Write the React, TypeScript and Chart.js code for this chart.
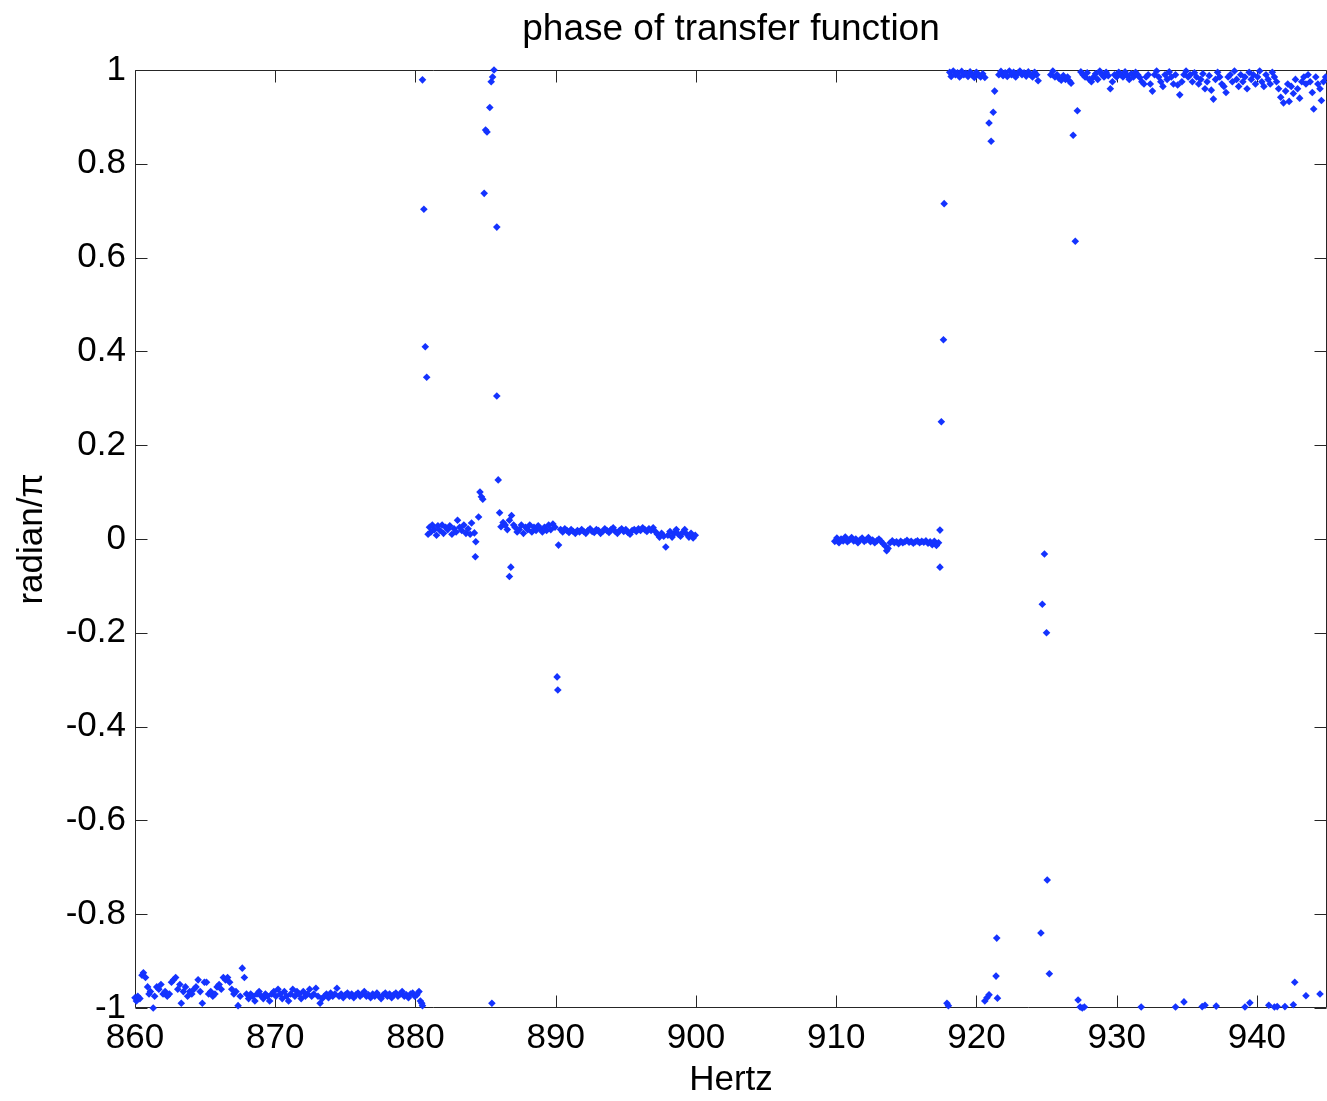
import React, { useEffect, useRef } from 'react';
import { Chart, registerables } from 'chart.js';

Chart.register(...registerables);

// Frequency (Hz) / phase (radian/π) readings, grouped by region of the plot
const lowBand: [number, number][] = [
  [860.0, -0.978], [860.1, -0.985], [860.2, -0.975], [860.35, -0.98], [860.5, -0.93], [860.6, -0.925],
  [860.75, -0.935], [860.9, -0.955], [861.0, -0.97], [861.1, -0.965], [861.3, -1.0], [861.4, -0.975],
  [861.55, -0.955], [861.7, -0.96], [861.85, -0.95], [862.0, -0.97], [862.15, -0.965], [862.3, -0.975],
  [862.45, -0.97], [862.6, -0.945], [862.75, -0.94], [862.9, -0.935], [863.05, -0.96], [863.2, -0.95],
  [863.3, -0.99], [863.45, -0.965], [863.6, -0.955], [863.75, -0.975], [863.9, -0.965], [864.05, -0.97],
  [864.2, -0.96], [864.35, -0.955], [864.5, -0.94], [864.65, -0.965], [864.8, -0.99], [864.95, -0.945],
  [865.1, -0.945], [865.25, -0.97], [865.4, -0.965], [865.55, -0.975], [865.7, -0.97], [865.85, -0.955],
  [866.0, -0.95], [866.15, -0.96], [866.3, -0.935], [866.45, -0.94], [866.6, -0.935], [866.75, -0.945],
  [866.9, -0.96], [867.05, -0.97], [867.2, -0.965], [867.35, -0.995], [867.5, -0.975], [867.65, -0.915],
  [867.8, -0.935], [867.95, -0.97], [868.1, -0.98], [868.25, -0.97], [868.4, -0.975], [868.55, -0.985],
  [868.7, -0.97], [868.85, -0.965], [869.0, -0.975], [869.15, -0.98], [869.3, -0.97], [869.45, -0.975],
  [869.6, -0.985], [869.75, -0.97], [869.9, -0.965], [870.05, -0.975], [870.2, -0.96], [870.35, -0.97],
  [870.5, -0.98], [870.65, -0.965], [870.8, -0.975], [870.95, -0.985], [871.1, -0.97], [871.25, -0.96],
  [871.4, -0.975], [871.55, -0.965], [871.7, -0.97], [871.85, -0.98], [872.0, -0.965], [872.15, -0.975],
  [872.3, -0.97], [872.45, -0.96], [872.6, -0.975], [872.75, -0.97], [872.9, -0.958], [873.05, -0.975],
  [873.2, -0.99], [873.35, -0.98], [873.5, -0.975], [873.65, -0.97], [873.8, -0.978], [873.95, -0.968],
  [874.1, -0.975], [874.25, -0.97], [874.4, -0.958], [874.55, -0.975], [874.7, -0.97], [874.85, -0.978],
  [875.0, -0.972], [875.15, -0.968], [875.3, -0.975], [875.45, -0.97], [875.6, -0.978], [875.75, -0.972],
  [875.9, -0.968], [876.05, -0.975], [876.2, -0.97], [876.35, -0.965], [876.5, -0.975], [876.65, -0.972],
  [876.8, -0.978], [876.95, -0.97], [877.1, -0.975], [877.25, -0.968], [877.4, -0.975], [877.55, -0.98],
  [877.7, -0.972], [877.85, -0.968], [878.0, -0.975], [878.15, -0.97], [878.3, -0.978], [878.45, -0.972],
  [878.6, -0.968], [878.75, -0.975], [878.9, -0.97], [879.05, -0.965], [879.2, -0.975], [879.35, -0.972],
  [879.5, -0.978], [879.65, -0.97], [879.8, -0.968], [879.95, -0.975], [880.1, -0.972], [880.25, -0.965],
  [880.35, -0.985], [880.45, -0.99], [880.5, -0.995],
];

const zeroBandA: [number, number][] = [
  [880.9, 0.01], [881.0, 0.025], [881.1, 0.015], [881.2, 0.03], [881.35, 0.02], [881.5, 0.008],
  [881.6, 0.028], [881.75, 0.018], [881.9, 0.03], [882.0, 0.012], [882.15, 0.025], [882.3, 0.02],
  [882.45, 0.028], [882.6, 0.01], [882.75, 0.022], [882.9, 0.015], [883.0, 0.04], [883.15, 0.025],
  [883.3, 0.018], [883.45, 0.03], [883.6, 0.012], [883.75, 0.022], [883.9, 0.01], [884.0, 0.034],
  [884.2, 0.013], [884.3, -0.006], [884.27, -0.038], [884.5, 0.047], [884.6, 0.1], [884.7, 0.09],
  [884.8, 0.085], [886.0, 0.056], [886.1, 0.026], [886.25, 0.035], [886.4, 0.03], [886.55, 0.02],
  [886.7, 0.04], [886.85, 0.05], [887.0, 0.03], [887.1, 0.025], [887.25, 0.015], [887.4, 0.02],
  [887.55, 0.03], [887.7, 0.012], [887.85, 0.025], [888.0, 0.02], [888.15, 0.03], [888.3, 0.015],
  [888.45, 0.025], [888.6, 0.018], [888.75, 0.028], [888.9, 0.022], [889.05, 0.015], [889.2, 0.025],
  [889.35, 0.018], [889.5, 0.03], [889.65, 0.02], [889.8, 0.032], [889.95, 0.025], [890.2, -0.013],
  [890.35, 0.02], [890.5, 0.015], [890.65, 0.022], [890.8, 0.018], [890.95, 0.014], [891.1, 0.02],
  [891.25, 0.016], [891.4, 0.012], [891.55, 0.018], [891.7, 0.015], [891.85, 0.02], [892.0, 0.016],
  [892.15, 0.012], [892.3, 0.018], [892.45, 0.022], [892.6, 0.016], [892.75, 0.014], [892.9, 0.02],
  [893.05, 0.018], [893.2, 0.012], [893.35, 0.016], [893.5, 0.022], [893.65, 0.018], [893.8, 0.014],
  [893.95, 0.02], [894.1, 0.024], [894.25, 0.016], [894.4, 0.012], [894.55, 0.018], [894.7, 0.022],
  [894.85, 0.016], [895.0, 0.02], [895.15, 0.014], [895.3, 0.01], [895.45, 0.018], [895.6, 0.02],
  [895.75, 0.016], [895.9, 0.022], [896.05, 0.018], [896.2, 0.024], [896.35, 0.02], [896.5, 0.016],
  [896.65, 0.022], [896.8, 0.018], [896.95, 0.024], [897.1, 0.016], [897.25, 0.01], [897.4, 0.004],
  [897.55, 0.012], [897.7, 0.006], [897.85, -0.017], [898.0, 0.008], [898.15, 0.016], [898.3, 0.004],
  [898.45, 0.012], [898.6, 0.02], [898.75, 0.01], [898.9, 0.006], [899.05, 0.014], [899.2, 0.02],
  [899.35, 0.01], [899.5, 0.004], [899.65, 0.012], [899.8, 0.002], [899.95, 0.008],
];

const outliersA: [number, number][] = [
  [880.5, 0.979], [880.6, 0.703], [880.7, 0.41], [880.8, 0.345], [884.9, 0.737], [885.0, 0.872],
  [885.1, 0.868], [885.3, 0.92], [885.4, 0.975], [885.5, 0.985], [885.6, 1.0], [885.8, 0.665],
  [885.8, 0.305], [885.9, 0.126], [885.45, -0.99], [886.7, -0.08], [886.8, -0.06], [890.1, -0.294],
  [890.15, -0.322],
];

const zeroBandB: [number, number][] = [
  [909.9, -0.005], [910.05, 0.002], [910.2, -0.008], [910.35, 0.0], [910.5, -0.004], [910.65, 0.004],
  [910.8, -0.006], [910.95, -0.002], [911.1, 0.003], [911.25, -0.004], [911.4, 0.0], [911.55, -0.008],
  [911.7, -0.002], [911.85, 0.002], [912.0, -0.005], [912.15, -0.002], [912.3, 0.003], [912.45, -0.006],
  [912.6, -0.002], [912.75, -0.008], [912.9, -0.004], [913.05, 0.0], [913.2, -0.005], [913.35, -0.01],
  [913.5, -0.015], [913.6, -0.025], [913.7, -0.02], [913.85, -0.008], [914.0, -0.004], [914.15, -0.008],
  [914.3, -0.006], [914.45, -0.01], [914.6, -0.005], [914.75, -0.008], [914.9, -0.006], [915.05, -0.003],
  [915.2, -0.007], [915.35, -0.005], [915.5, -0.009], [915.65, -0.006], [915.8, -0.004], [915.95, -0.008],
  [916.1, -0.005], [916.25, -0.007], [916.4, -0.004], [916.55, -0.009], [916.7, -0.006], [916.85, -0.012],
  [917.0, -0.005], [917.15, -0.014], [917.3, -0.008], [917.4, 0.019], [917.4, -0.06],
];

const outliersB: [number, number][] = [
  [917.5, 0.25], [917.65, 0.425], [917.7, 0.715], [917.9, -0.99], [918.0, -0.995],
];

const topBand: [number, number][] = [
  [918.1, 0.995], [918.2, 0.986], [918.35, 0.998], [918.5, 0.99], [918.65, 0.994], [918.8, 0.985],
  [918.95, 0.997], [919.1, 0.99], [919.25, 0.993], [919.4, 0.986], [919.55, 0.996], [919.7, 0.99],
  [919.85, 0.984], [920.0, 0.995], [920.15, 0.99], [920.3, 0.985], [920.45, 0.992], [920.6, 0.984],
  [921.3, 0.955], [921.2, 0.91], [920.9, 0.887], [921.05, 0.848], [921.6, 0.99], [921.75, 0.997],
  [921.9, 0.988], [922.05, 0.994], [922.2, 0.986], [922.35, 0.998], [922.5, 0.99], [922.65, 0.995],
  [922.8, 0.985], [922.95, 0.993], [923.1, 0.998], [923.25, 0.99], [923.4, 0.994], [923.55, 0.987],
  [923.7, 0.996], [923.85, 0.99], [924.0, 0.985], [924.15, 0.995], [924.3, 0.99], [924.4, 0.977],
  [925.3, 0.99], [925.45, 0.998], [925.6, 0.985], [925.75, 0.99], [925.9, 0.982], [926.05, 0.978],
  [926.2, 0.988], [926.35, 0.98], [926.5, 0.985], [926.65, 0.976], [926.75, 0.972], [926.9, 0.861],
  [927.05, 0.635], [927.2, 0.913], [927.45, 0.996], [927.6, 0.99], [927.75, 0.985], [927.9, 0.994],
  [928.05, 0.98], [928.2, 0.975], [928.35, 0.985], [928.5, 0.992], [928.65, 0.98], [928.8, 0.998],
  [928.95, 0.99], [929.1, 0.985], [929.25, 0.995], [929.4, 0.988], [929.55, 0.96], [929.7, 0.975],
  [929.85, 0.99], [930.0, 0.985], [930.15, 0.995], [930.3, 0.99], [930.45, 0.985], [930.6, 0.996],
  [930.75, 0.988], [930.9, 0.98], [931.05, 0.992], [931.2, 0.985], [931.35, 0.995], [931.5, 0.99],
  [931.65, 0.984], [931.8, 0.975], [931.95, 0.97], [932.1, 0.985], [932.25, 0.99], [932.4, 0.97],
  [932.55, 0.955], [932.7, 0.99], [932.85, 0.998], [933.0, 0.985], [933.15, 0.975], [933.3, 0.965],
  [933.45, 0.99], [933.6, 0.98], [933.75, 0.996], [933.9, 0.985], [934.05, 0.97], [934.2, 0.99],
  [934.35, 0.968], [934.5, 0.947], [934.65, 0.975], [934.8, 0.99], [934.95, 0.998], [935.1, 0.985],
  [935.25, 0.99], [935.4, 0.975], [935.55, 0.994], [935.7, 0.985], [935.85, 0.97], [936.0, 0.98],
  [936.15, 0.992], [936.3, 0.96], [936.45, 0.975], [936.6, 0.988], [936.75, 0.957], [936.9, 0.938],
  [937.05, 0.98], [937.2, 0.995], [937.35, 0.985], [937.5, 0.97], [937.65, 0.965], [937.8, 0.952],
  [937.95, 0.985], [938.1, 0.99], [938.25, 0.975], [938.4, 0.998], [938.55, 0.98], [938.7, 0.965],
  [938.85, 0.99], [939.0, 0.975], [939.15, 0.985], [939.3, 0.96], [939.45, 0.995], [939.6, 0.98],
  [939.75, 0.99], [939.9, 0.97], [940.05, 0.985], [940.2, 0.998], [940.35, 0.975], [940.5, 0.965],
  [940.65, 0.99], [940.8, 0.98], [940.95, 0.97], [941.1, 0.995], [941.25, 0.985], [941.4, 0.975],
  [941.55, 0.96], [941.7, 0.942], [941.9, 0.93], [942.05, 0.955], [942.2, 0.97], [942.3, 0.933],
  [942.45, 0.965], [942.6, 0.95], [942.75, 0.98], [942.9, 0.96], [943.05, 0.94], [943.2, 0.975],
  [943.35, 0.985], [943.5, 0.97], [943.65, 0.99], [943.8, 0.975], [943.95, 0.952], [944.05, 0.917],
  [944.2, 0.985], [944.35, 0.97], [944.5, 0.96], [944.6, 0.935], [944.75, 0.975], [944.9, 0.985],
];

const wrappedLow: [number, number][] = [
  [920.6, -0.985], [920.75, -0.978], [920.9, -0.972], [921.4, -0.932], [921.45, -0.851], [921.5, -0.979],
  [924.6, -0.84], [924.7, -0.139], [924.85, -0.032], [925.0, -0.2], [925.05, -0.727], [925.2, -0.927],
  [927.25, -0.983], [927.4, -0.998], [927.55, -1.0], [927.7, -0.998], [931.75, -0.998], [934.2, -0.998],
  [934.8, -0.987], [936.1, -0.997], [936.3, -0.994], [937.1, -0.996], [939.15, -0.998], [939.5, -0.989],
  [940.85, -0.994], [941.25, -0.998], [941.45, -0.997], [942.0, -0.997], [942.6, -0.993], [942.7, -0.945],
  [943.5, -0.974], [944.5, -0.97],
];

const xTickValues = [860, 870, 880, 890, 900, 910, 920, 930, 940];
const yTickValues = [-1, -0.8, -0.6, -0.4, -0.2, 0, 0.2, 0.4, 0.6, 0.8, 1];
const X_MIN = 860;
const X_MAX = 945;
const Y_MIN = -1;
const Y_MAX = 1;

const FONT = 'Liberation Sans, Arial, Helvetica, sans-serif';
const POINT_COLOR = '#1433ff';
const AXIS_COLOR = '#262626';

export default function App() {
  const canvasRef = useRef<HTMLCanvasElement | null>(null);

  useEffect(() => {
    document.body.style.margin = '0';
    const canvas = canvasRef.current;
    if (!canvas) return;

    const allPoints = [
      ...lowBand, ...zeroBandA, ...outliersA, ...zeroBandB, ...outliersB, ...topBand, ...wrappedLow,
    ].map(([x, y]) => ({ x, y }));

    const boxPlugin = {
      id: 'matlabBox',
      beforeDatasetsDraw(chart: any) {
        const { ctx, chartArea, scales } = chart;
        const L = Math.round(chartArea.left) + 0.5;
        const R = Math.round(chartArea.right) - 0.5;
        const T = Math.round(chartArea.top) + 0.5;
        const B = Math.round(chartArea.bottom) - 0.5;
        const tick = 12;
        ctx.save();
        ctx.strokeStyle = AXIS_COLOR;
        ctx.lineWidth = 1;
        ctx.beginPath();
        ctx.rect(L, T, R - L, B - T);
        for (const v of xTickValues) {
          const px = Math.round(scales.x.getPixelForValue(v)) + 0.5;
          ctx.moveTo(px, B);
          ctx.lineTo(px, B - tick);
          ctx.moveTo(px, T);
          ctx.lineTo(px, T + tick);
        }
        for (const v of yTickValues) {
          const py = Math.round(scales.y.getPixelForValue(v)) + 0.5;
          ctx.moveTo(L, py);
          ctx.lineTo(L + tick, py);
          ctx.moveTo(R, py);
          ctx.lineTo(R - tick, py);
        }
        ctx.stroke();
        ctx.restore();
      },
    };

    const chart = new Chart(canvas, {
      type: 'scatter',
      data: {
        datasets: [
          {
            data: allPoints,
            pointStyle: 'rectRot',
            pointRadius: 3.8,
            pointHoverRadius: 3.8,
            backgroundColor: POINT_COLOR,
            borderColor: POINT_COLOR,
            borderWidth: 0,
            clip: false as any,
          },
        ],
      },
      options: {
        responsive: false,
        animation: false,
        devicePixelRatio: 1,
        layout: { padding: 0, autoPadding: false },
        plugins: {
          legend: { display: false },
          tooltip: { enabled: false },
          title: {
            display: true,
            text: 'phase of transfer function',
            fullSize: false,
            color: '#000',
            font: { family: FONT, size: 37, weight: 'normal' },
            padding: { top: 8, bottom: 17.6 },
          },
        },
        scales: {
          x: {
            type: 'linear',
            min: X_MIN,
            max: X_MAX,
            afterBuildTicks: (scale: any) => {
              scale.ticks = xTickValues.map((v) => ({ value: v }));
            },
            afterFit: (scale: any) => {
              scale.height = 93;
              scale.paddingLeft = 0;
              scale.paddingRight = 0;
            },
            grid: { display: false, drawTicks: false },
            border: { display: false },
            ticks: {
              color: '#000',
              font: { family: FONT, size: 35 },
              padding: 9,
              maxRotation: 0,
              autoSkip: false,
              callback: (v: any) => String(v),
            },
            title: {
              display: true,
              text: 'Hertz',
              color: '#000',
              font: { family: FONT, size: 35 },
              padding: { top: 0, bottom: 0 },
            },
          },
          y: {
            type: 'linear',
            min: Y_MIN,
            max: Y_MAX,
            afterBuildTicks: (scale: any) => {
              scale.ticks = yTickValues.map((v) => ({ value: v }));
            },
            afterFit: (scale: any) => {
              scale.width = 135;
              scale.paddingTop = 0;
              scale.paddingBottom = 0;
            },
            grid: { display: false, drawTicks: false },
            border: { display: false },
            ticks: {
              color: '#000',
              font: { family: FONT, size: 35 },
              padding: 9,
              autoSkip: false,
              callback: (v: any) => String(Number(Number(v).toFixed(1))),
            },
            title: {
              display: true,
              text: 'radian/π',
              color: '#000',
              font: { family: FONT, size: 35 },
              padding: { top: 11, bottom: 0 },
            },
          },
        },
      },
      plugins: [boxPlugin],
    });

    return () => {
      chart.destroy();
    };
  }, []);

  return (
    <div style={{ position: 'absolute', left: 0, top: 0, width: 1327, height: 1101, background: '#fff' }}>
      <canvas ref={canvasRef} width={1327} height={1101} style={{ display: 'block' }} />
    </div>
  );
}
